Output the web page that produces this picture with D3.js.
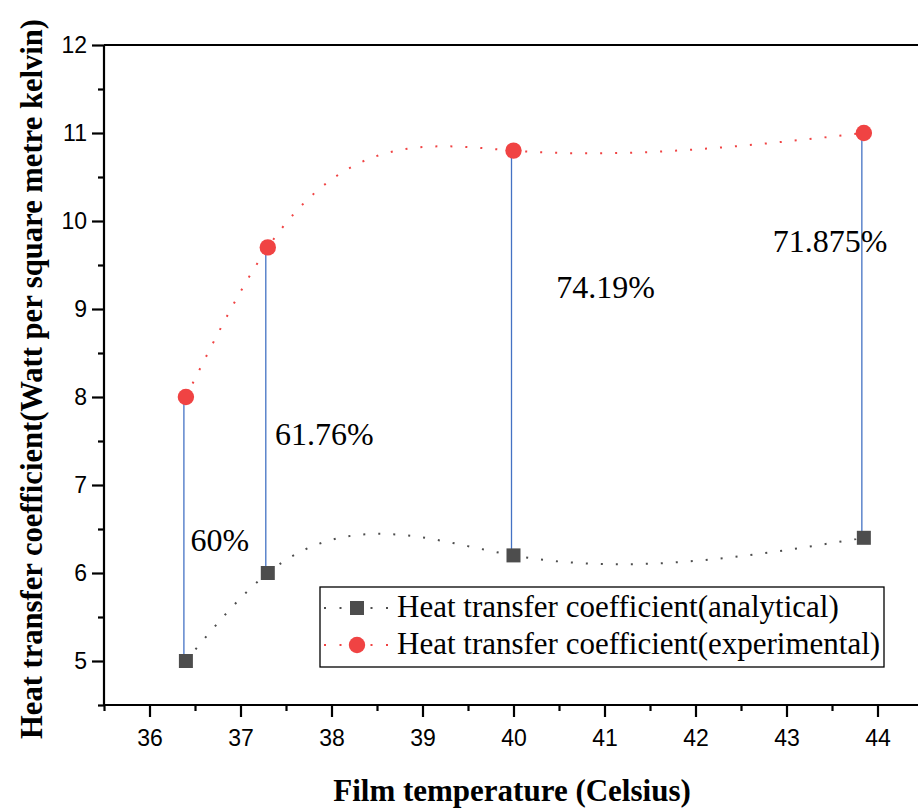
<!DOCTYPE html>
<html>
<head>
<meta charset="utf-8">
<script src="https://cdn.jsdelivr.net/npm/d3@7"></script>
<style>
  body { margin: 0; background: #fff; }
  svg { display: block; }
  .tick text { font-family: "Liberation Sans", Arial, sans-serif; }
</style>
</head>
<body>
<div id="chart"></div>
<script>
// data
const filmTemp = [36.4, 37.3, 40, 43.85];
const analytical = [5, 6, 6.2, 6.4];
const experimental = [8, 9.7, 10.8, 11];
const gapLabels = ["60%", "61.76%", "74.19%", "71.875%"];
// label anchor (data coords) for each percentage
const labelX = [36.45, 37.38, 40.47, 42.85];
const labelY = [6.25, 7.45, 9.13, 9.65];
const xTicks = [36, 37, 38, 39, 40, 41, 42, 43, 44];
const yTicks = [5, 6, 7, 8, 9, 10, 11, 12];
const seriesNames = ["Heat transfer coefficient(analytical)", "Heat transfer coefficient(experimental)"];

const W = 918, H = 812;
const margin = {top: 45, left: 104};
const plotW = 819, plotH = 660;
const serif = "Liberation Serif, Times New Roman, serif";

// cubic spline in x (natural ends), like Origin's "Spline" connector
function NaturalX(context) { this._context = context; }
NaturalX.prototype = {
    areaStart() {}, areaEnd() {},
    lineStart() { this._x = []; this._y = []; },
    point(px, py) { this._x.push(+px); this._y.push(+py); },
    lineEnd() {
        const xs = this._x, ys = this._y, n = xs.length, ctx = this._context;
        if (!n) return;
        ctx.moveTo(xs[0], ys[0]);
        if (n < 3) { if (n === 2) ctx.lineTo(xs[1], ys[1]); return; }
        const h = [], d = [];
        for (let i = 0; i < n - 1; i++) { h[i] = xs[i + 1] - xs[i]; d[i] = (ys[i + 1] - ys[i]) / h[i]; }
        // solve for second derivatives M (M0 = Mn-1 = 0)
        const M = new Array(n).fill(0);
        const a = [], b = [], c = [], r = [];
        for (let i = 1; i < n - 1; i++) {
            a.push(h[i - 1]); b.push(2 * (h[i - 1] + h[i])); c.push(h[i]); r.push(6 * (d[i] - d[i - 1]));
        }
        const m = b.length;
        for (let i = 1; i < m; i++) {
            const w = a[i] / b[i - 1];
            b[i] -= w * c[i - 1]; r[i] -= w * r[i - 1];
        }
        const sol = new Array(m);
        sol[m - 1] = r[m - 1] / b[m - 1];
        for (let i = m - 2; i >= 0; i--) sol[i] = (r[i] - c[i] * sol[i + 1]) / b[i];
        for (let i = 0; i < m; i++) M[i + 1] = sol[i];
        const slope = [];
        for (let i = 0; i < n - 1; i++) slope[i] = d[i] - h[i] * (2 * M[i] + M[i + 1]) / 6;
        slope[n - 1] = d[n - 2] + h[n - 2] * (M[n - 2] + 2 * M[n - 1]) / 6;
        for (let i = 0; i < n - 1; i++) {
            const k = h[i] / 3;
            ctx.bezierCurveTo(xs[i] + k, ys[i] + slope[i] * k,
                xs[i + 1] - k, ys[i + 1] - slope[i + 1] * k,
                xs[i + 1], ys[i + 1]);
        }
    }
};
const curveNaturalX = ctx => new NaturalX(ctx);

const svg = d3.select("#chart").append("svg")
    .attr("width", W)
    .attr("height", H);

const x = d3.scaleLinear().domain([35.5, 44.5]).range([margin.left, margin.left + plotW]);
const y = d3.scaleLinear().domain([4.5, 12]).range([margin.top + plotH, margin.top]);

const grey = "#4d4d4d", red = "#f04343", blue = "#4472c4";

// axes: major ticks + minor ticks at half units
const xMinor = d3.range(35.5, 44.6, 1);
const yMinor = d3.range(4.5, 12, 1);

const xAxis = svg.append("g")
    .attr("transform", `translate(0,${margin.top + plotH})`)
    .call(d3.axisBottom(x).tickValues(xTicks).tickSize(12).tickPadding(13).tickFormat(d3.format("d")));
svg.append("g")
    .attr("transform", `translate(0,${margin.top + plotH})`)
    .call(d3.axisBottom(x).tickValues(xMinor).tickSize(6).tickFormat(""))
    .select(".domain").remove();

const yAxis = svg.append("g")
    .attr("transform", `translate(${margin.left},0)`)
    .call(d3.axisLeft(y).tickValues(yTicks).tickSize(12).tickPadding(5).tickFormat(d3.format("d")));
svg.append("g")
    .attr("transform", `translate(${margin.left},0)`)
    .call(d3.axisLeft(y).tickValues(yMinor).tickSize(6).tickFormat(""))
    .select(".domain").remove();

svg.selectAll(".domain").attr("stroke", "#000").attr("stroke-width", 2.2);
svg.selectAll(".tick line").attr("stroke", "#000").attr("stroke-width", 2.2);
svg.selectAll(".tick text").attr("font-size", 23).attr("fill", "#000");
xAxis.selectAll(".domain").attr("d", `M${margin.left},0H${margin.left + plotW}`);
yAxis.selectAll(".domain").attr("d", `M0,${margin.top}V${margin.top + plotH}`);

// top frame line
svg.append("line")
    .attr("x1", margin.left).attr("x2", margin.left + plotW)
    .attr("y1", margin.top).attr("y2", margin.top)
    .attr("stroke", "#000").attr("stroke-width", 2.2);

// spline connectors
const line = d3.line().curve(curveNaturalX);
const anaPts = filmTemp.map((t, i) => [x(t), y(analytical[i])]);
const expPts = filmTemp.map((t, i) => [x(t), y(experimental[i])]);

svg.append("path")
    .attr("d", line(anaPts))
    .attr("fill", "none").attr("stroke", grey)
    .attr("stroke-width", 2).attr("stroke-dasharray", "2,13");
svg.append("path")
    .attr("d", line(expPts))
    .attr("fill", "none").attr("stroke", red)
    .attr("stroke-width", 2).attr("stroke-dasharray", "2,13");

// blue drop lines between series
svg.selectAll(".gap")
    .data(filmTemp)
    .enter().append("line")
    .attr("class", "gap")
    .attr("x1", d => x(d) - 2).attr("x2", d => x(d) - 2)
    .attr("y1", (d, i) => y(experimental[i]))
    .attr("y2", (d, i) => y(analytical[i]))
    .attr("stroke", blue).attr("stroke-width", 1.3);

// markers
svg.selectAll(".sq")
    .data(filmTemp)
    .enter().append("rect")
    .attr("x", d => x(d) - 7)
    .attr("y", (d, i) => y(analytical[i]) - 7)
    .attr("width", 14).attr("height", 14)
    .attr("fill", grey);

svg.selectAll(".dot")
    .data(filmTemp)
    .enter().append("circle")
    .attr("cx", d => x(d))
    .attr("cy", (d, i) => y(experimental[i]))
    .attr("r", 8.2)
    .attr("fill", red);

// percentage labels
svg.selectAll(".pct")
    .data(gapLabels)
    .enter().append("text")
    .attr("x", (d, i) => x(labelX[i]))
    .attr("y", (d, i) => y(labelY[i]))
    .attr("font-family", serif)
    .attr("font-size", 32)
    .text(d => d);

// legend
const lg = svg.append("g").attr("transform", "translate(320,587)");
lg.append("rect")
    .attr("width", 564).attr("height", 80)
    .attr("fill", "#fff").attr("stroke", "#000").attr("stroke-width", 1.3);

[grey, red].forEach((c, i) => {
    const cy = 21 + i * 37;
    lg.append("line")
        .attr("x1", 4).attr("x2", 70).attr("y1", cy).attr("y2", cy)
        .attr("stroke", c).attr("stroke-width", 2).attr("stroke-dasharray", "2,13.5");
    if (i === 0) {
        lg.append("rect").attr("x", 30).attr("y", cy - 7).attr("width", 14).attr("height", 14).attr("fill", c);
    } else {
        lg.append("circle").attr("cx", 37).attr("cy", cy).attr("r", 8.2).attr("fill", c);
    }
    lg.append("text")
        .attr("x", 77).attr("y", cy + 9)
        .attr("font-family", serif)
        .attr("font-size", 31)
        .text(seriesNames[i]);
});

// axis titles
svg.append("text")
    .attr("x", 512).attr("y", 801)
    .attr("text-anchor", "middle")
    .attr("font-family", serif)
    .attr("font-weight", "bold")
    .attr("font-size", 31)
    .text("Film temperature (Celsius)");

svg.append("text")
    .attr("transform", "translate(42,379) rotate(-90)")
    .attr("text-anchor", "middle")
    .attr("font-family", serif)
    .attr("font-weight", "bold")
    .attr("font-size", 31)
    .attr("textLength", 720)
    .attr("lengthAdjust", "spacingAndGlyphs")
    .text("Heat transfer coefficient(Watt per square metre kelvin)");
</script>
</body>
</html>
